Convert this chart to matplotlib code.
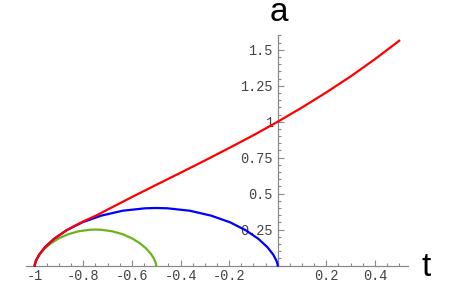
import matplotlib
matplotlib.use("Agg")
import matplotlib.pyplot as plt
from matplotlib.ticker import MultipleLocator, FuncFormatter

# values
t_red = [-1.0, -0.9993, -0.9944, -0.9814, -0.9574, -0.92, -0.8685, -0.83, -0.8,
         -0.75, -0.7, -0.6, -0.5, -0.4, -0.3, -0.2, -0.1, 0.0, 0.1, 0.2, 0.3, 0.4, 0.5]
a_red = [0.0, 0.009, 0.035, 0.076, 0.128, 0.186, 0.246, 0.281, 0.307,
         0.345, 0.389, 0.476, 0.561, 0.645, 0.730, 0.817, 0.906, 1.0, 1.099, 1.204, 1.315, 1.435, 1.563]

t_blue = [-1.0, -0.9993, -0.9944, -0.9814, -0.9574, -0.92, -0.8685, -0.8032, -0.7255, -0.6383,
          -0.545, -0.5, -0.455, -0.3617, -0.2745, -0.1968, -0.1315, -0.08, -0.0427, -0.0186,
          -0.0056, -0.0007, 0.0]
a_blue = [0.0, 0.009, 0.035, 0.076, 0.128, 0.186, 0.245, 0.301, 0.347, 0.381,
          0.398, 0.4, 0.398, 0.381, 0.347, 0.301, 0.245, 0.186, 0.128, 0.076,
          0.035, 0.009, 0.0]

t_green = [-1.0, -0.9996, -0.9972, -0.9907, -0.9787, -0.96, -0.9343, -0.9016, -0.8628, -0.8192,
           -0.7725, -0.75, -0.7275, -0.6808, -0.6372, -0.5984, -0.5657, -0.54, -0.5213, -0.5093,
           -0.5028, -0.5004, -0.5]
a_green = [0.0, 0.0056, 0.0218, 0.0473, 0.0797, 0.1162, 0.1534, 0.1881, 0.2172, 0.238,
           0.2488, 0.25, 0.2488, 0.238, 0.2172, 0.1881, 0.1534, 0.1162, 0.0797, 0.0473,
           0.0218, 0.0056, 0.0]

plt.rcParams["axes.unicode_minus"] = False

fig = plt.figure(figsize=(4.59, 2.84), dpi=100)
ax = fig.add_axes([0.0571, 0.0651, 0.8312, 0.8116])

lw = 1.6
ax.plot(t_green, a_green, color="#6ab41a", lw=lw, clip_on=False, zorder=3)
ax.plot(t_blue, a_blue, color="#0000ff", lw=lw, clip_on=False, zorder=4)
ax.plot(t_red, a_red, color="#ff0000", lw=lw, clip_on=False, zorder=5)

ax.set_xlim(-1.035, 0.535)
ax.set_ylim(0, 1.603)

for s in ["top", "right"]:
    ax.spines[s].set_visible(False)
ax.spines["left"].set_position(("data", 0))
ax.spines["bottom"].set_position(("data", 0))
for s in ["left", "bottom"]:
    ax.spines[s].set_color("#8a8a8a")
    ax.spines[s].set_linewidth(0.9)

ax.xaxis.set_major_locator(MultipleLocator(0.2))
ax.xaxis.set_minor_locator(MultipleLocator(0.05))
ax.yaxis.set_major_locator(MultipleLocator(0.25))
ax.yaxis.set_minor_locator(MultipleLocator(0.05))


def fmt(v, pos):
    if abs(v) < 1e-9:
        return ""
    return "%g" % round(v, 3)


ax.xaxis.set_major_formatter(FuncFormatter(fmt))
ax.yaxis.set_major_formatter(FuncFormatter(fmt))

ax.tick_params(which="both", direction="in", color="#8a8a8a", width=0.8)
ax.tick_params(which="major", length=4.5)
ax.tick_params(which="minor", length=2.5)
ax.tick_params(axis="x", which="major", pad=2.5)
ax.tick_params(axis="y", which="major", pad=3.5)
for lab in ax.get_xticklabels() + ax.get_yticklabels():
    lab.set_fontfamily("Liberation Mono")
    lab.set_fontsize(9.8)
    lab.set_color("#444444")

# axis names, placed by hand like Mathematica's AxesLabel
fig.text(278.5 / 459, 1 - 21.3 / 284, "a", fontsize=24, family="Liberation Sans",
         ha="center", va="baseline")
fig.text(426 / 459, 1 - 276.5 / 284, "t", fontsize=24, family="Liberation Sans",
         ha="center", va="baseline")

fig.savefig("out.png", dpi=100)
